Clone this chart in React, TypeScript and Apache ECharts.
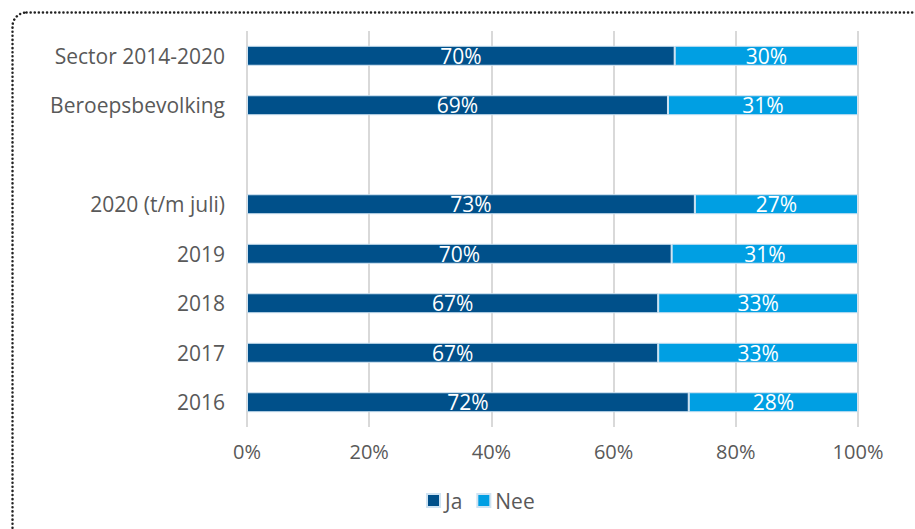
import React, { useEffect, useRef } from "react";
import * as echarts from "echarts";

const categories = ["Sector 2014-2020", "Beroepsbevolking", "", "2020 (t/m juli)", "2019", "2018", "2017", "2016"];
const jaValues: (number | null)[] = [70.0, 68.9, null, 73.3, 69.5, 67.3, 67.3, 72.3];
const neeValues: (number | null)[] = [30.0, 31.1, null, 26.7, 30.5, 32.7, 32.7, 27.7];
const xTicks = [0, 20, 40, 60, 80, 100];

const FONT = "'Open Sans', 'Noto Sans', sans-serif";

export default function App() {
  const ref = useRef<HTMLDivElement>(null);
  useEffect(() => {
    if (!ref.current) return;
    const chart = echarts.init(ref.current, undefined, { renderer: "svg" });
    const cats = [...categories].reverse();
    const ja = [...jaValues].reverse();
    const nee = [...neeValues].reverse();
    const labelCfg = {
      show: true,
      position: "inside" as const,
      color: "#ffffff",
      fontSize: 21,
      fontFamily: FONT,
      formatter: (p: any) => (p.value == null ? "" : Math.round(p.value) + "%"),
    };
    chart.setOption({
      animation: false,
      textStyle: { fontFamily: FONT },
      graphic: [
        {
          type: "rect",
          left: 10,
          top: 10,
          shape: { width: 1000, height: 1000, r: 14 },
          style: { fill: "none", stroke: "#222", lineWidth: 2.5, lineDash: [0.1, 4], lineCap: "round" },
          silent: true,
        },
      ],
      legend: {
        bottom: 13,
        left: 421,
        itemWidth: 13,
        itemHeight: 13,
        itemGap: 14,
        icon: "rect",
        textStyle: { color: "#595959", fontSize: 21, fontFamily: FONT },
        data: ["Ja", "Nee"],
      },
      grid: { left: 247, right: 57, top: 31, height: 396, containLabel: false },
      xAxis: {
        type: "value",
        min: 0,
        max: 100,
        interval: 20,
        axisLine: { show: false },
        axisTick: { show: false },
        splitLine: { show: true, lineStyle: { color: "#d9d9d9", width: 2 } },
        axisLabel: {
          color: "#595959",
          fontSize: 20,
          fontFamily: FONT,
          margin: 14,
          formatter: (v: number) => (xTicks.includes(v) ? v + "%" : ""),
        },
      },
      yAxis: {
        type: "category",
        data: cats,
        axisLine: { show: false },
        axisTick: { show: false },
        axisLabel: { color: "#595959", fontSize: 21, fontFamily: FONT, margin: 22 },
      },
      series: [
        {
          name: "Ja",
          type: "bar",
          stack: "total",
          data: ja,
          barWidth: 20,
          itemStyle: { color: "#00508a", borderColor: "#cfe3f2", borderWidth: 1 },
          label: labelCfg,
        },
        {
          name: "Nee",
          type: "bar",
          stack: "total",
          data: nee,
          barWidth: 20,
          itemStyle: { color: "#009fe3", borderColor: "#cfe3f2", borderWidth: 1 },
          label: labelCfg,
        },
      ],
    });
    return () => chart.dispose();
  }, []);
  return <div ref={ref} style={{ position: "absolute", left: 0, top: 0, width: 915, height: 529 }} />;
}
